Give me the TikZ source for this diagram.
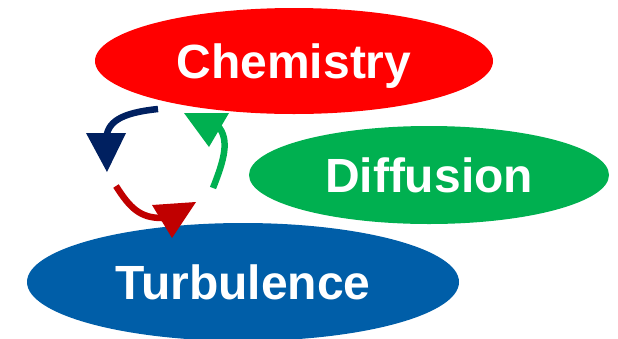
\documentclass[tikz,border=0pt]{standalone}
\usepackage{fontspec}
\setmainfont{Liberation Sans}
\usepackage{tikz}
\usetikzlibrary{
    positioning,
    shapes.geometric
}

\definecolor{chemred}{HTML}{FF0000}
\definecolor{diffgreen}{HTML}{00B050}
\definecolor{turbblue}{HTML}{005EA8}
\definecolor{loopnavy}{HTML}{002060}
\definecolor{loopred}{HTML}{C00000}

\begin{document}
\begin{tikzpicture}[
    x=1pt, y=-1pt,
    every node/.style={font=\fontsize{48}{48}\selectfont\bfseries},
    blob/.style={
        ellipse,
        inner sep=0pt,
        text=white,
        text height=34.4pt,
        text depth=0pt
    },
    shaft/.style={line width=6.5pt}
]
\useasboundingbox (0,0) rectangle (618,338);

% ---------- Ellipses ----------
\node[blob, fill=chemred, minimum width=398pt, minimum height=106pt]
    (chem) at (294,61) {Chemistry};

\node[blob, fill=diffgreen, minimum width=360pt, minimum height=98pt]
    (diff) at (429,175) {Diffusion};

\node[blob, fill=turbblue, minimum width=432pt, minimum height=118pt]
    (turb) at (243,282) {Turbulence};

% ---------- Cycle arrows ----------
\coordinate (b0) at (158,109);
\coordinate (b1) at (106,140);
\coordinate (r0) at (116,186);
\coordinate (r1) at (162,218);
\coordinate (g0) at (213,188);
\coordinate (g1) at (218,126);

\draw[shaft, loopnavy] (b0) .. controls (120,113) and (107,122) .. (b1);
\fill[loopnavy] (86,133) -- (126,133) -- (107,172) -- cycle;

\draw[shaft, loopred] (r0) .. controls (130,208) and (140,218) .. (r1);
\fill[loopred] (152,205) -- (196,202) -- (172,238) -- cycle;

\draw[shaft, diffgreen] (g0) .. controls (224,160) and (230,140) .. (g1);
\fill[diffgreen] (184,113) -- (229,113) -- (209,147) -- cycle;

\end{tikzpicture}
\end{document}
